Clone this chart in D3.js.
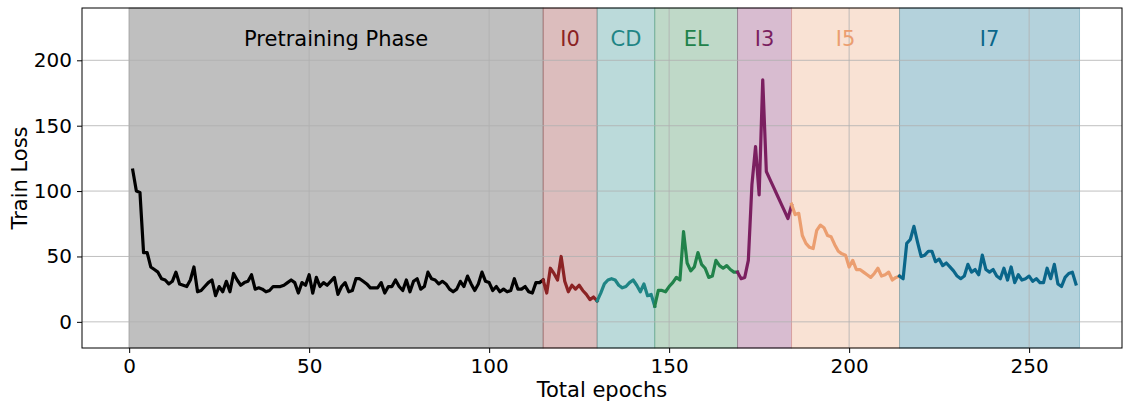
<!DOCTYPE html>
<html>
<head>
<meta charset="utf-8">
<script src="https://cdn.jsdelivr.net/npm/d3@7"></script>
<style>
    body { margin: 0; background: #fff; }
    text { font-family: "DejaVu Sans", sans-serif; }
</style>
</head>
<body>
<script>
(function(){

//phase names, boundaries (epochs) and colours
var phaseNames = ["Pretraining Phase", "I0", "CD", "EL", "I3", "I5", "I7"];
var phaseStarts = [0, 115, 130, 146, 169, 184, 214];
var phaseEnds = [115, 130, 146, 169, 184, 214, 264];
var phaseColors = ["#000000", "#8b2324", "#1f8585", "#21824a", "#7b1f60", "#eb9e70", "#0a668a"];
var spanColors = ["#808080", "#8b2324", "#1f8585", "#2a8048", "#7d2062", "#eb9e70", "#05698a"];
var spanAlpha = [0.5, 0.3, 0.3, 0.3, 0.3, 0.3, 0.3];

//first epoch of each loss series
var lossStarts = [1, 115, 130, 146, 169, 184, 214];

//train loss per epoch, one array per phase
var pretrainLoss = [116, 100, 99, 53, 53, 42, 40, 38, 33, 32, 29, 31, 38, 29, 28, 27, 32, 42, 23, 24,
    27, 30, 32, 20, 27, 23, 31, 23, 37, 32, 28, 30, 31, 36, 25, 26, 25, 23, 24, 27,
    27, 27, 28, 30, 32, 30, 22, 30, 28, 36, 22, 34, 27, 30, 28, 31, 34, 21, 27, 30,
    23, 24, 33, 33, 31, 29, 26, 26, 26, 30, 22, 27, 27, 32, 27, 24, 32, 23, 31, 33,
    25, 27, 38, 33, 32, 29, 31, 29, 25, 23, 25, 31, 27, 35, 29, 24, 29, 38, 31, 30,
    24, 27, 23, 25, 23, 24, 33, 25, 25, 27, 23, 22, 30, 30, 32];
var i0Loss = [32, 22, 41, 37, 32, 50, 31, 23, 28, 25, 28, 24, 21, 17, 19, 16];
var cdLoss = [16, 22, 29, 32, 33, 32, 28, 26, 27, 30, 32, 28, 23, 29, 20, 21, 12];
var elLoss = [12, 24, 24, 23, 27, 30, 34, 32, 69, 45, 39, 42, 53, 44, 41, 34, 35, 47, 43, 41,
    43, 40, 38, 38];
var i3Loss = [38, 33, 34, 47, 105, 134, 97, 185, 115, 109, 103, 97, 91, 85, 79, 89];
var i5Loss = [90, 82, 83, 66, 60, 57, 56, 70, 74, 72, 66, 65, 59, 54, 52, 51, 42, 47, 40, 40,
    38, 36, 34, 37, 41, 35, 36, 38, 32, 34, 35];
var i7Loss = [35, 33, 60, 63, 73, 61, 50, 51, 54, 54, 46, 48, 43, 45, 42, 39, 35, 33, 35, 44,
    38, 40, 36, 51, 40, 38, 40, 35, 33, 41, 32, 42, 30, 36, 32, 33, 35, 31, 33, 30,
    30, 41, 33, 44, 29, 27, 34, 37, 38, 29];
var lossSeries = [pretrainLoss, i0Loss, cdLoss, elLoss, i3Loss, i5Loss, i7Loss];

//tick values
var xTicks = [0, 50, 100, 150, 200, 250];
var yTicks = [0, 50, 100, 150, 200];

//begin script when window loads
window.onload = setChart();

function setChart(){
    //frame dimensions
    var width = 1123,
        height = 401,
        margin = {top: 8, right: 1, bottom: 53, left: 82},
        innerWidth = width - margin.left - margin.right,
        innerHeight = height - margin.top - margin.bottom;

    var svg = d3.select("body")
        .append("svg")
        .attr("width", width)
        .attr("height", height);

    var g = svg.append("g")
        .attr("transform", "translate(" + margin.left + "," + margin.top + ")");

    //scales
    var x = d3.scaleLinear()
        .domain([-13.1, 275.8])
        .range([0, innerWidth]);

    var y = d3.scaleLinear()
        .domain([-20, 240])
        .range([innerHeight, 0]);

    //phase spans
    g.selectAll(".span")
        .data(phaseNames)
        .enter()
        .append("rect")
        .attr("class", "span")
        .attr("x", function(d, i){ return x(phaseStarts[i]); })
        .attr("width", function(d, i){ return x(phaseEnds[i]) - x(phaseStarts[i]); })
        .attr("y", 0)
        .attr("height", innerHeight)
        .style("fill", function(d, i){ return spanColors[i]; })
        .style("fill-opacity", function(d, i){ return spanAlpha[i]; })
        .style("stroke", function(d, i){ return spanColors[i]; })
        .style("stroke-opacity", function(d, i){ return spanAlpha[i]; })
        .style("stroke-width", 1);

    //grid lines
    g.selectAll(".xgrid")
        .data(xTicks)
        .enter()
        .append("line")
        .attr("x1", function(d){ return x(d); })
        .attr("x2", function(d){ return x(d); })
        .attr("y1", 0)
        .attr("y2", innerHeight)
        .style("stroke", "#b0b0b0")
        .style("stroke-opacity", 0.8)
        .style("stroke-width", 1);

    g.selectAll(".ygrid")
        .data(yTicks)
        .enter()
        .append("line")
        .attr("x1", 0)
        .attr("x2", innerWidth)
        .attr("y1", function(d){ return y(d); })
        .attr("y2", function(d){ return y(d); })
        .style("stroke", "#b0b0b0")
        .style("stroke-opacity", 0.8)
        .style("stroke-width", 1);

    //loss lines
    var line = d3.line()
        .x(function(d){ return x(d.epoch); })
        .y(function(d){ return y(d.loss); });

    lossSeries.forEach(function(series, i){
        var pts = series.map(function(v, j){
            return {epoch: lossStarts[i] + j, loss: v};
        });
        g.append("path")
            .datum(pts)
            .attr("d", line)
            .style("fill", "none")
            .style("stroke", phaseColors[i])
            .style("stroke-width", 3.2)
            .style("stroke-linejoin", "round")
            .style("stroke-linecap", "square");
    });

    //phase labels
    g.selectAll(".phaseLabel")
        .data(phaseNames)
        .enter()
        .append("text")
        .attr("x", function(d, i){ return x((phaseStarts[i] + phaseEnds[i]) / 2); })
        .attr("y", 38)
        .attr("text-anchor", "middle")
        .style("font-size", "21px")
        .style("fill", function(d, i){ return phaseColors[i]; })
        .text(function(d){ return d; });

    //axes
    var xAxis = g.append("g")
        .attr("transform", "translate(0," + innerHeight + ")")
        .call(d3.axisBottom(x).tickValues(xTicks).tickSize(5).tickPadding(6));

    var yAxis = g.append("g")
        .call(d3.axisLeft(y).tickValues(yTicks).tickSize(5).tickPadding(5));

    [xAxis, yAxis].forEach(function(a){
        a.select(".domain").remove();
        a.selectAll("text")
            .style("font-size", "20px")
            .style("font-family", "DejaVu Sans")
            .style("fill", "#000");
        a.selectAll("line").style("stroke", "#000").style("stroke-width", 1);
    });

    //frame
    g.append("rect")
        .attr("width", innerWidth)
        .attr("height", innerHeight)
        .style("fill", "none")
        .style("stroke", "#000")
        .style("stroke-width", 1);

    //axis titles
    svg.append("text")
        .attr("x", margin.left + innerWidth / 2)
        .attr("y", 397)
        .attr("text-anchor", "middle")
        .style("font-size", "21px")
        .text("Total epochs");

    svg.append("text")
        .attr("transform", "translate(27," + (margin.top + innerHeight / 2) + ") rotate(-90)")
        .attr("text-anchor", "middle")
        .style("font-size", "21px")
        .text("Train Loss");
};

})();
</script>
</body>
</html>
